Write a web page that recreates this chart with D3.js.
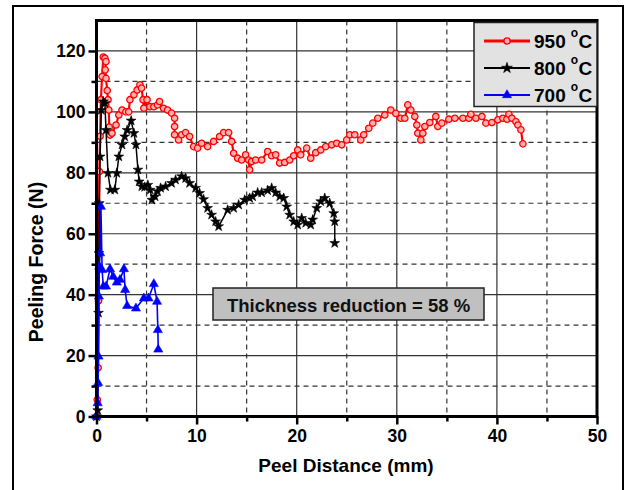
<!DOCTYPE html>
<html><head><meta charset="utf-8">
<script src="https://cdn.jsdelivr.net/npm/d3@7"></script>
<style>body{margin:0;background:#fff}svg{display:block;font-family:"Liberation Sans",Arial,sans-serif}</style>
</head><body><svg id="c" width="625" height="490"></svg>
<script>
const xTicks=[0,10,20,30,40,50];
const xMinor=[5,15,25,35,45];
const yTicks=[0,20,40,60,80,100,120];
const yMinor=[10,30,50,70,90,110];
const seriesNames=["950 \u00B0C","800 \u00B0C","700 \u00B0C"];
const seriesColors=["#ff0000","#000000","#0000ff"];
const annotation="Thickness reduction = 58 %";

const x950=[0,0.08,0.16,0.2,0.28,0.36,0.44,0.56,0.68,0.84,0.95,0.87,0.95,1.07,1.15,1.23,1.27,1.35,1.55,1.95,2.23,2.55,2.94,3.22,3.34,3.74,4.06,4.34,4.5,4.65,4.73,5.05,5.33,5.73,6.1,6.3,6.7,7.1,7.5,7.8,7.8,7.8,8.2,8.5,8.9,9.3,9.7,10.1,10.5,11.1,11.7,12.3,12.7,13.2,13.5,13.7,14.1,14.5,14.9,15.2,15.3,15.5,15.9,16.5,17.1,17.5,17.9,18.3,18.8,19.3,19.7,20.1,20.4,21.0,21.4,21.9,22.4,22.9,23.5,24.0,24.5,25.0,25.3,25.8,26.4,26.7,27.2,27.6,28.1,28.8,29.4,29.9,30.4,30.8,31.1,31.4,31.8,32.0,32.1,32.4,32.6,32.8,33.3,33.9,34.1,34.5,35.2,35.8,36.6,37.2,37.4,37.9,38.5,38.9,39.5,40.1,40.6,41.0,41.2,41.5,41.9,42.1,42.4,42.6];
const y950=[0,5.5,16,38,80.4,92,104,111.6,118,117.6,116.5,113.8,111,107,104,100.6,95,92.4,93,95.7,99,100.6,100,100,104,105.6,107.2,108.9,107.8,104,101.2,104,101.7,101.7,102.3,103.4,101.2,100.6,99.6,97.9,95.2,92.5,90.8,92.5,93.2,91.9,88.6,88.1,89.7,88.6,90.3,91.9,93.2,93.2,90.3,86.4,84.8,84.2,85.9,84.2,81,83.7,84.2,84.2,87,85.6,85.9,83.2,83.4,84.2,85.6,87.5,85.9,88.1,84.8,86.6,87.5,88.6,89.2,89.7,89.2,90.8,92.5,92.5,90.8,92.5,94.6,96.3,97.9,99,100.6,99.5,97.9,97.9,102.3,100.6,98.5,95.7,93,90.8,93,95.2,96.5,98.5,95.2,96.3,97.6,97.9,97.9,97.9,99.2,97.9,98.5,96.3,96.5,97.4,97.9,97.6,99.2,97.9,96.8,95.7,94.1,89.5];

const x800=[0,0.12,0.2,0.24,0.28,0.36,0.48,0.68,0.84,0.95,1.15,1.39,1.83,2.03,2.23,2.55,2.82,3.06,3.46,3.74,3.94,4.14,4.26,4.53,4.81,5.13,5.37,5.53,5.85,6.1,6.4,6.9,7.5,7.9,8.5,8.9,9.3,9.9,10.3,10.7,11.1,11.5,11.9,12.2,13.1,13.7,14.2,14.8,15.3,15.6,16.1,16.5,17.1,17.5,17.9,18.3,18.7,19.0,19.3,19.7,20.1,20.5,20.9,21.4,21.6,22.0,22.4,22.8,23.3,23.7,23.8,23.8];
const y800=[0,2,34,53.6,70,85.3,100.6,103.4,102.8,94,79.9,74.4,74.4,79.9,85.3,89.2,91.9,94,97.1,93,89.2,81,77.1,75.5,75.3,76,74.4,71.1,72.2,73.9,75,75.5,76.6,77.7,78.8,78.2,76.6,75,73.3,71.3,68.4,66.2,64,62.4,67.8,68.4,69.5,71.1,71.7,72.2,73.5,73.5,74.2,75,73.5,72.2,71.7,68.9,66.2,64,62.9,65.1,63.5,62.9,64.6,68.4,70.6,71.7,70,66.7,64,56.9];

const x700=[0,0.12,0.16,0.2,0.24,0.28,0.36,0.44,0.56,0.68,0.95,1.35,1.67,2.03,2.35,2.74,2.86,3.06,3.94,4.73,5.2,5.73,6.05,6.13,6.17];
const y700=[0,4.4,11,19.7,39.4,49.2,53.6,68.9,48.1,42.7,42.7,48.4,45.9,44,44.9,48.4,41.6,36.3,35.5,38.8,38.8,43.5,37.7,28.4,22];

const svg=d3.select("#c");
const m={l:96.5,t:20.5,r:597,b:416.5};
const x=d3.scaleLinear().domain([0,50]).range([m.l,m.r]);
const y=d3.scaleLinear().domain([0,130]).range([m.b,m.t]);
const bold="bold";

// outer frame
svg.append("rect").attr("x",13).attr("y",6).attr("width",610).attr("height",500)
  .attr("fill","none").attr("stroke","#000").attr("stroke-width",2);

// grid
const g=svg.append("g");
g.selectAll(".vx").data(xTicks.filter(d=>d>0&&d<50)).join("line")
  .attr("x1",d=>x(d)).attr("x2",d=>x(d)).attr("y1",m.t).attr("y2",m.b)
  .attr("stroke","#333").attr("stroke-width",1.2);
g.selectAll(".vxm").data(xMinor).join("line")
  .attr("x1",d=>x(d)).attr("x2",d=>x(d)).attr("y1",m.t).attr("y2",m.b)
  .attr("stroke","#333").attr("stroke-width",1.2).attr("stroke-dasharray","5,4");
g.selectAll(".hy").data(yTicks.filter(d=>d>0)).join("line")
  .attr("y1",d=>y(d)).attr("y2",d=>y(d)).attr("x1",m.l).attr("x2",m.r)
  .attr("stroke","#333").attr("stroke-width",1.2);
g.selectAll(".hym").data(yMinor).join("line")
  .attr("y1",d=>y(d)).attr("y2",d=>y(d)).attr("x1",m.l).attr("x2",m.r)
  .attr("stroke","#333").attr("stroke-width",1.2).attr("stroke-dasharray","5,4");

// annotation box
const ab=svg.append("g");
ab.append("rect").attr("x",213).attr("y",288).attr("width",271).attr("height",32)
  .attr("fill","#c0c0c0").attr("stroke","#222").attr("stroke-width",1.5);
ab.append("text").attr("x",348.5).attr("y",305).attr("dominant-baseline","central")
  .attr("text-anchor","middle").attr("font-size",18.5).attr("font-weight",bold).attr("fill","#111").text(annotation);

// series
const data=[
  {x:x950,y:y950,c:seriesColors[0],w:2.2,sym:d3.symbolCircle,sz:32},
  {x:x800,y:y800,c:seriesColors[1],w:1.5,sym:d3.symbolStar,sz:30},
  {x:x700,y:y700,c:seriesColors[2],w:1.6,sym:d3.symbolTriangle,sz:36}
];
const line=d3.line().x(d=>x(d[0])).y(d=>y(d[1]));
data.forEach((s,i)=>{
  const pts=s.x.map((v,k)=>[v,s.y[k]]);
  svg.append("path").datum(pts).attr("d",line).attr("fill","none").attr("stroke",s.c).attr("stroke-width",s.w);
  const sg=svg.append("g");
  sg.selectAll("path").data(pts).join("path")
    .attr("transform",d=>`translate(${x(d[0])},${y(d[1])})`)
    .attr("d",d3.symbol().type(s.sym).size(s.sz))
    .attr("fill",i===0?"#ffb0b0":s.c).attr("stroke",s.c).attr("stroke-width",i===0?1.3:0.6);
});

// axes frame
svg.append("rect").attr("x",m.l).attr("y",m.t).attr("width",m.r-m.l).attr("height",m.b-m.t)
  .attr("fill","none").attr("stroke","#000").attr("stroke-width",3);

const xa=svg.append("g").attr("transform",`translate(0,${m.b})`)
  .call(d3.axisBottom(x).tickValues(xTicks).tickSize(8).tickFormat(d3.format("d")));
const xam=svg.append("g").attr("transform",`translate(0,${m.b})`)
  .call(d3.axisBottom(x).tickValues(xMinor).tickSize(5).tickFormat(""));
const ya=svg.append("g").attr("transform",`translate(${m.l},0)`)
  .call(d3.axisLeft(y).tickValues(yTicks).tickSize(8).tickFormat(d3.format("d")));
const yam=svg.append("g").attr("transform",`translate(${m.l},0)`)
  .call(d3.axisLeft(y).tickValues(yMinor).tickSize(5).tickFormat(""));
[xa,xam,ya,yam].forEach(a=>{
  a.select(".domain").remove();
  a.selectAll("line").attr("stroke","#000").attr("stroke-width",2.5);
  a.selectAll("text").attr("font-size",17.5).attr("font-weight",bold).attr("fill","#000")
   .attr("font-family","'Liberation Sans',Arial,sans-serif");
});
xa.selectAll("text").attr("dy","0.95em").attr("y",9);
ya.selectAll("text").attr("x",-11);

// axis titles
svg.append("text").attr("x",346).attr("y",472).attr("text-anchor","middle")
  .attr("font-size",19).attr("font-weight",bold).text("Peel Distance (mm)");
svg.append("text").attr("transform","translate(43,262) rotate(-90)").attr("text-anchor","middle")
  .attr("font-size",19.5).attr("font-weight",bold).text("Peeling Force (N)");

// legend
const lg=svg.append("g");
lg.append("rect").attr("x",474).attr("y",22.5).attr("width",123).attr("height",84)
  .attr("fill","#e2e2e2").attr("stroke","#222").attr("stroke-width",1.5);
const ly=[41,68,95];
data.forEach((s,i)=>{
  lg.append("line").attr("x1",484).attr("x2",530).attr("y1",ly[i]).attr("y2",ly[i])
    .attr("stroke",s.c).attr("stroke-width",i===0?3:2);
  lg.append("path").attr("transform",`translate(507,${ly[i]})`)
    .attr("d",d3.symbol().type(s.sym).size(i===0?30:36))
    .attr("fill",i===0?"#ffb0b0":s.c).attr("stroke",s.c).attr("stroke-width",i===0?1.3:0.6);
  const parts=seriesNames[i].split("\u00B0");
  const t1=lg.append("text").attr("x",534).attr("y",ly[i]).attr("dominant-baseline","central")
    .attr("font-size",19).attr("font-weight",bold).attr("fill","#000").text(parts[0].trim());
  const w1=t1.node().getComputedTextLength();
  const ox=534+w1+5;
  const t2=lg.append("text").attr("x",ox).attr("y",ly[i]-8).attr("dominant-baseline","central")
    .attr("font-size",12).attr("font-weight",bold).attr("fill","#000").text("o");
  const w2=t2.node().getComputedTextLength();
  lg.append("text").attr("x",ox+w2+0.5).attr("y",ly[i]).attr("dominant-baseline","central")
    .attr("font-size",19).attr("font-weight",bold).attr("fill","#000").text(parts[1]);
});
</script></body></html>
